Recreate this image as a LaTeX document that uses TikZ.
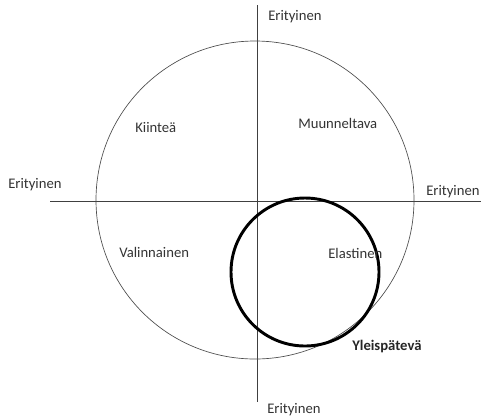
\documentclass[tikz,border=0pt]{standalone}
\usepackage{fontspec}
\setmainfont{Carlito}
\usepackage{tikz}
\tikzset{lbl/.style={anchor=west, inner sep=0pt, text=black!80, font=\fontsize{11}{13}\selectfont}}
\tikzset{axis/.style={draw=black!75, line width=0.6pt}}

\begin{document}
\begin{tikzpicture}[x=0.75pt, y=-0.75pt]
\useasboundingbox (0,0) rectangle (481,419);
\coordinate (top) at (257,5);
\coordinate (bot) at (257,402);
\coordinate (lft) at (50,201);
\coordinate (rgt) at (481,201);
\coordinate (big) at (255,200);
\coordinate (small) at (305,272);
\draw[axis] (top) -- (bot);
\draw[axis] (lft) -- (rgt);
\draw[draw=black!70, line width=0.5pt] (big) circle[radius=159];
\draw[line width=2.2pt] (small) circle[radius=74];
\node[lbl] (n) at (268,17) {Erityinen};
\node[lbl] (w) at (8,185) {Erityinen};
\node[lbl] (e) at (426,192) {Erityinen};
\node[lbl] (s) at (267,410) {Erityinen};
\node[lbl] (kiintea) at (135,128) {Kiinteä};
\node[lbl] (muunneltava) at (298,123) {Muunneltava};
\node[lbl] (valinnainen) at (119,252) {Valinnainen};
\node[lbl] (elastinen) at (328,253) {Elastinen};
\node[lbl, font=\fontsize{11}{13}\selectfont\bfseries, text=black!85] (yleis) at (352,346) {Yleispätevä};
\end{tikzpicture}
\end{document}
